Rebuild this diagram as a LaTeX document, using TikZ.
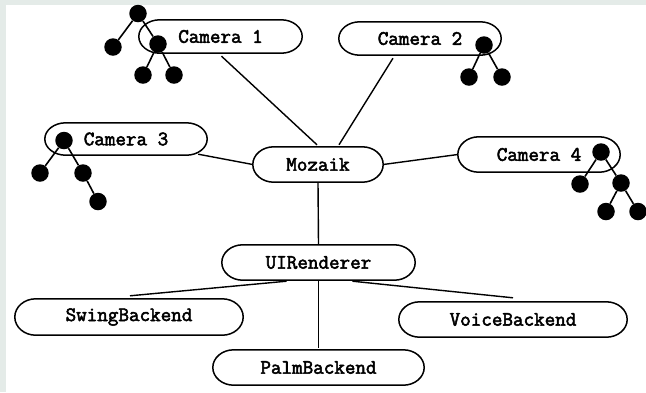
\documentclass[tikz,border=0pt]{standalone}
\usepackage{fontspec}
\newfontfamily\courfont{Latin Modern Mono}[FakeBold=2.6]
\usetikzlibrary{calc}
\definecolor{framegray}{RGB}{228,235,232}
\newcommand\stadium[1]{%
  \draw[outline] let \p1=(#1.north east), \p2=(#1.south west), \n1={(\y1-\y2)/2} in
    (\x1-21pt,\y1) -- (\x2+21pt,\y1)
    arc[start angle=90, end angle=270, x radius=21pt, y radius=\n1]
    -- (\x1-21pt,\y2)
    arc[start angle=-90, end angle=90, x radius=21pt, y radius=\n1] -- cycle;}
\begin{document}
\begin{tikzpicture}[x=1pt,y=-1pt,
  box/.style={inner sep=0pt, font=\courfont\fontsize{20.5}{21}\selectfont},
  outline/.style={draw=black, line width=1.5pt},
  dot/.style={circle, fill=black, inner sep=0pt, minimum size=17.5pt},
  link/.style={line width=1.4pt},
  twig/.style={line width=1.6pt}]
\useasboundingbox (0,0) rectangle (646,392);
\fill[framegray] (0,0) rectangle (646,392);
\fill[white] (6,5) rectangle (646,392);

% main nodes
\node[box, minimum width=163pt, minimum height=33pt] (cam1) at (220.5,36.5) {Camera 1};
\node[box, minimum width=162pt, minimum height=33pt] (cam2) at (420,38.5) {Camera 2};
\node[box, minimum width=162pt, minimum height=32pt] (cam3) at (126,139) {Camera 3};
\node[box, minimum width=162pt, minimum height=35pt] (cam4) at (539,154.5) {Camera 4};
\node[box, minimum width=130pt, minimum height=35pt] (moz) at (318,164.5) {Mozaik};
\node[box, minimum width=193pt, minimum height=35pt] (ui) at (318.5,262.5) {UIRenderer};
\node[box, minimum width=228pt, minimum height=36pt] (swing) at (129,317) {SwingBackend};
\node[box, minimum width=228pt, minimum height=35pt] (voice) at (513,319.5) {VoiceBackend};
\node[box, minimum width=211pt, minimum height=35pt] (palm) at (318.5,367.5) {PalmBackend};
\foreach \nd in {cam1,cam2,cam3,cam4,moz,ui,swing,voice,palm} {\stadium{\nd}}

% connectors
\draw[link] ($(cam1.south)+(1,3)$) -- ($(moz.north)+(-1,-2)$);
\draw[link] ($(cam2.south)+(-27,3)$) -- ($(moz.north)+(21,-2)$);
\draw[link] ($(cam3.south east)+(-9,-1)$) -- (moz.west);
\draw[link] (cam4.west) -- (moz.east);
\draw[link] (moz.south) -- (ui.north);
\draw[link] ($(ui.south)+(-32,1)$) -- ($(swing.north)+(1,-3)$);
\draw[link] ($(ui.south)+(34,1)$) -- ($(voice.north)+(0,-4)$);
\draw[link] ($(ui.south)+(0,1)$) -- ($(palm.north)+(0,-2)$);

% tree at Camera 1
\node[dot] (a0) at (138,13.5) {};
\node[dot] (a1) at (113,47) {};
\node[dot] (a2) at (158,44) {};
\node[dot] (a3) at (143,75) {};
\node[dot] (a4) at (174,75) {};
\draw[twig] (a0) -- (a1) (a0) -- (a2) (a2) -- (a3) (a2) -- (a4);

% tree at Camera 2
\node[dot] (b0) at (484,45) {};
\node[dot] (b1) at (469,77) {};
\node[dot] (b2) at (502,77) {};
\draw[twig] (b0) -- (b1) (b0) -- (b2);

% tree at Camera 3
\node[dot] (c0) at (64,140.5) {};
\node[dot] (c1) at (40,173) {};
\node[dot] (c2) at (83,173) {};
\node[dot] (c3) at (98,201.5) {};
\draw[twig] (c0) -- (c1) (c0) -- (c2) (c2) -- (c3);

% tree at Camera 4
\node[dot] (d0) at (601,152) {};
\node[dot] (d1) at (580,184) {};
\node[dot] (d2) at (621,183) {};
\node[dot] (d3) at (606,211.5) {};
\node[dot] (d4) at (638,211.5) {};
\draw[twig] (d0) -- (d1) (d0) -- (d2) (d2) -- (d3) (d2) -- (d4);
\end{tikzpicture}
\end{document}
